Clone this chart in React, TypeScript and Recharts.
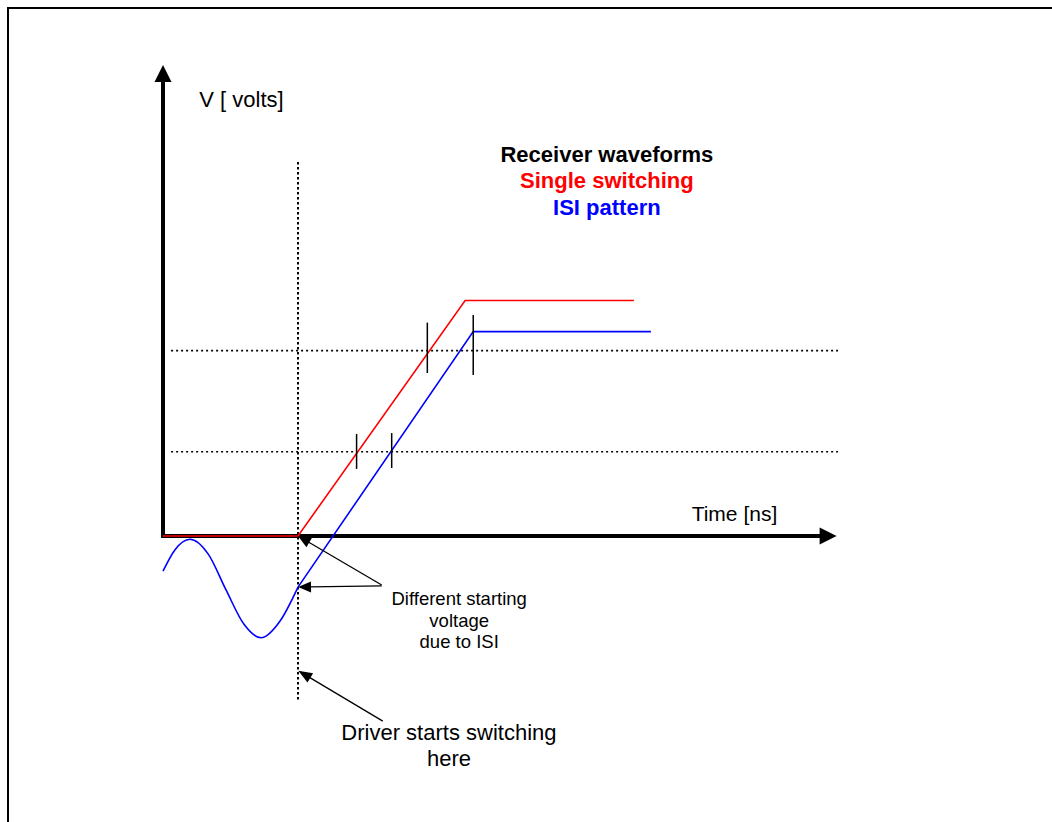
import React from 'react';
import { ComposedChart, Line, XAxis, YAxis, ReferenceLine, ReferenceDot } from 'recharts';

const W = 1052;
const H = 822;
// where the axes cross on the page, and how big one ns / one volt is
const ORIGIN_X = 163;
const ORIGIN_Y = 536;
const PX_PER_NS = 27;
const PX_PER_VOLT = 235.5;
const FONT = "'Liberation Sans', Arial, Helvetica, sans-serif";

// single switching waveform (red)
const singleTime = [0, 5, 11.19, 17.44];
const singleVolts = [0, 0, 1.0, 1.0];

// ISI pattern waveform (blue): ringing before the driver switches, then the ramp
const isiRingTime = [0, 0.44, 1.0, 1.67, 2.33, 3.0, 3.63, 4.33, 5];
const isiRingVolts = [-0.149, -0.059, -0.014, -0.076, -0.228, -0.375, -0.432, -0.362, -0.217];
const isiRampTime = [5, 11.49, 18.07];
const isiRampVolts = [-0.217, 0.868, 0.868];

const driverStart = 5;
const thresholdVolts = [0.358, 0.787];

// short marks where the waveforms cross the thresholds
const markTime = [7.17, 8.47, 9.79, 11.49];
const markLow = [0.285, 0.289, 0.692, 0.684];
const markHigh = [0.433, 0.437, 0.906, 0.938];

const legendLines = ['Receiver waveforms', 'Single switching', 'ISI pattern'];
const legendColors = ['#000000', '#ff0000', '#0000ff'];
const isiNote = ['Different starting', 'voltage', 'due to ISI'];
const driverNote = ['Driver starts switching', 'here'];

const toPoints = (t: number[], v: number[]) => t.map((x, i) => ({ t: x, v: v[i] }));

const singleData = toPoints(singleTime, singleVolts);
const ringData = toPoints(isiRingTime, isiRingVolts);
const rampData = toPoints(isiRampTime, isiRampVolts);

const xDomain = [-ORIGIN_X / PX_PER_NS, (W - ORIGIN_X) / PX_PER_NS];
const yDomain = [(ORIGIN_Y - H) / PX_PER_VOLT, ORIGIN_Y / PX_PER_VOLT];

const arrow = (width: number, headLen: number, headHalf: number) => (p: any) => {
  const { x1, y1, x2, y2 } = p;
  const dx = x2 - x1;
  const dy = y2 - y1;
  const len = Math.hypot(dx, dy) || 1;
  const ux = dx / len;
  const uy = dy / len;
  const bx = x2 - ux * headLen;
  const by = y2 - uy * headLen;
  const nx = -uy;
  const ny = ux;
  return (
    <g>
      <line x1={x1} y1={y1} x2={bx + ux} y2={by + uy} stroke="#000" strokeWidth={width} />
      <polygon
        points={`${x2},${y2} ${bx + nx * headHalf},${by + ny * headHalf} ${bx - nx * headHalf},${by - ny * headHalf}`}
        fill="#000"
      />
    </g>
  );
};

const textBlock = (
  lines: string[],
  size: number,
  gap: number,
  anchor: 'start' | 'middle',
  colors?: string[],
  bold?: boolean
) => (p: any) => (
  <text
    x={p.cx}
    y={p.cy}
    textAnchor={anchor}
    fontFamily={FONT}
    fontSize={size}
    fontWeight={bold ? 'bold' : 'normal'}
  >
    {lines.map((s, i) => (
      <tspan key={i} x={p.cx} dy={i === 0 ? 0 : gap} fill={colors ? colors[i] : '#000'}>
        {s}
      </tspan>
    ))}
  </text>
);

export default function App() {
  return (
    <div style={{ position: 'absolute', left: 0, top: 0, width: W, height: H, overflow: 'hidden', background: '#fff' }}>
      <div
        style={{
          position: 'absolute',
          left: 7,
          top: 7,
          width: W,
          height: H,
          borderTop: '2px solid #000',
          borderLeft: '2px solid #000',
        }}
      />
      <div style={{ position: 'absolute', left: 0, top: 0 }}>
        <ComposedChart width={W} height={H} margin={{ top: 0, right: 0, bottom: 0, left: 0 }}>
          <XAxis type="number" dataKey="t" domain={xDomain} allowDataOverflow hide />
          <YAxis type="number" dataKey="v" domain={yDomain} allowDataOverflow hide />

          {/* thresholds and the switching instant */}
          {thresholdVolts.map((v, i) => (
            <ReferenceLine
              key={'th' + i}
              segment={[{ x: 0.3, y: v }, { x: 25, y: v }]}
              stroke="#000"
              strokeWidth={1.6}
              strokeDasharray="2 3"
              ifOverflow="visible"
            />
          ))}
          <ReferenceLine
            segment={[{ x: driverStart, y: 1.588 }, { x: driverStart, y: -0.696 }]}
            stroke="#000"
            strokeWidth={2}
            strokeDasharray="2.5 2.5"
            ifOverflow="visible"
          />

          {/* axes */}
          <ReferenceLine segment={[{ x: 0, y: -0.0085 }, { x: 0, y: 2.0 }]} shape={arrow(4, 17, 8.5)} ifOverflow="visible" />
          <ReferenceLine segment={[{ x: -0.075, y: 0 }, { x: 24.95, y: 0 }]} shape={arrow(4, 17, 8.5)} ifOverflow="visible" />

          <Line data={singleData} dataKey="v" type="linear" stroke="#ff0000" strokeWidth={1.6} dot={false} activeDot={false} isAnimationActive={false} />
          <Line data={ringData} dataKey="v" type="monotone" stroke="#0000ff" strokeWidth={1.6} dot={false} activeDot={false} isAnimationActive={false} />
          <Line data={rampData} dataKey="v" type="linear" stroke="#0000ff" strokeWidth={1.6} dot={false} activeDot={false} isAnimationActive={false} />

          {markTime.map((t, i) => (
            <ReferenceLine
              key={'mk' + i}
              segment={[{ x: t, y: markLow[i] }, { x: t, y: markHigh[i] }]}
              stroke="#000"
              strokeWidth={1.5}
              ifOverflow="visible"
            />
          ))}

          {/* annotation arrows */}
          <ReferenceLine segment={[{ x: 8.1, y: -0.208 }, { x: driverStart, y: 0 }]} shape={arrow(1.3, 13, 5.5)} ifOverflow="visible" />
          <ReferenceLine segment={[{ x: 8.1, y: -0.212 }, { x: driverStart, y: -0.217 }]} shape={arrow(1.3, 13, 5.5)} ifOverflow="visible" />
          <ReferenceLine segment={[{ x: 8.14, y: -0.786 }, { x: 5.01, y: -0.572 }]} shape={arrow(1.3, 14, 5.5)} ifOverflow="visible" />

          {/* labels */}
          <ReferenceDot x={1.344} y={1.823} r={0} ifOverflow="visible" shape={textBlock(['V [ volts]'], 22, 0, 'start')} />
          <ReferenceDot x={19.58} y={0.065} r={0} ifOverflow="visible" shape={textBlock(['Time [ns]'], 21, 0, 'start')} />
          <ReferenceDot x={16.44} y={1.589} r={0} ifOverflow="visible" shape={textBlock(legendLines, 22, 26.7, 'middle', legendColors, true)} />
          <ReferenceDot x={10.97} y={-0.293} r={0} ifOverflow="visible" shape={textBlock(isiNote, 18.5, 21.7, 'middle')} />
          <ReferenceDot x={10.59} y={-0.866} r={0} ifOverflow="visible" shape={textBlock(driverNote, 22, 26, 'middle')} />
        </ComposedChart>
      </div>
    </div>
  );
}
